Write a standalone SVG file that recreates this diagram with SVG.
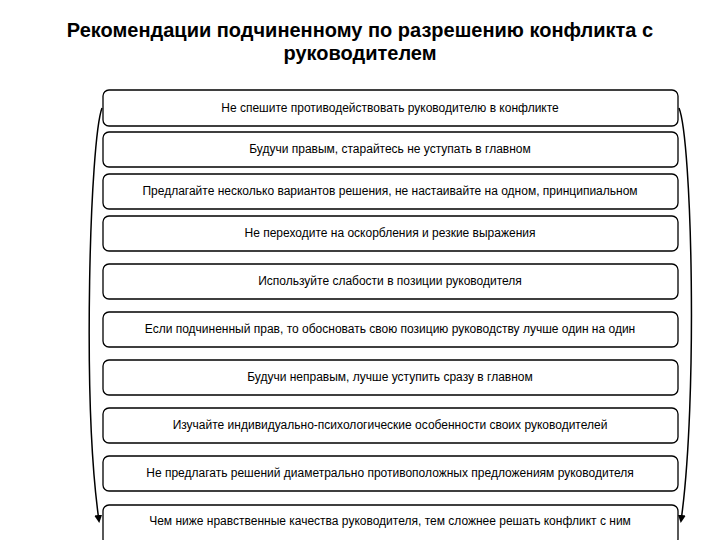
<svg xmlns="http://www.w3.org/2000/svg" width="720" height="540" viewBox="0 0 720 540">
<style>
.b{fill:#fff;stroke:#000;stroke-width:1.3}
.t{font-family:"Liberation Sans",Arial,sans-serif;font-size:12px;text-anchor:middle;fill:#000}
.h{font-family:"Liberation Sans",Arial,sans-serif;font-size:20px;font-weight:bold;text-anchor:middle;fill:#000}
.c{fill:none;stroke:#000;stroke-width:1.5}
</style>
<defs><marker id="a" markerWidth="8" markerHeight="8" refX="6" refY="4" orient="auto" markerUnits="userSpaceOnUse"><path d="M0,0 L8,4 L0,8 z"/></marker></defs>
<text class="h" x="360" y="37">Рекомендации подчиненному по разрешению конфликта с</text>
<text class="h" x="360" y="60">руководителем</text>
<g id="connectors">
<path class="c" d="M102,108 C90,140 82,400 99,521" marker-end="url(#a)"/>
<path class="c" d="M679,108 C692,140 698,400 681,521" marker-end="url(#a)"/>
</g>
<g id="n1"><rect class="b" x="103" y="90" width="575" height="36" rx="6"/><text class="t" x="390" y="112">Не спешите противодействовать руководителю в конфликте</text></g>
<g id="n2"><rect class="b" x="103" y="132" width="575" height="35" rx="6"/><text class="t" x="390" y="153">Будучи правым, старайтесь не уступать в главном</text></g>
<g id="n3"><rect class="b" x="103" y="174" width="575" height="35" rx="6"/><text class="t" x="390" y="195">Предлагайте несколько вариантов решения, не настаивайте на одном, принципиальном</text></g>
<g id="n4"><rect class="b" x="103" y="216" width="575" height="35" rx="6"/><text class="t" x="390" y="237">Не переходите на оскорбления и резкие выражения</text></g>
<g id="n5"><rect class="b" x="103" y="264" width="575" height="35" rx="6"/><text class="t" x="390" y="285">Используйте слабости в позиции руководителя</text></g>
<g id="n6"><rect class="b" x="103" y="312" width="575" height="35" rx="6"/><text class="t" x="390" y="333">Если подчиненный прав, то обосновать свою позицию руководству лучше один на один</text></g>
<g id="n7"><rect class="b" x="103" y="360" width="575" height="35" rx="6"/><text class="t" x="390" y="381">Будучи неправым, лучше уступить сразу в главном</text></g>
<g id="n8"><rect class="b" x="103" y="408" width="575" height="35" rx="6"/><text class="t" x="390" y="429">Изучайте индивидуально-психологические особенности своих руководителей</text></g>
<g id="n9"><rect class="b" x="103" y="456" width="575" height="35" rx="6"/><text class="t" x="390" y="477">Не предлагать решений диаметрально противоположных предложениям руководителя</text></g>
<g id="n10"><rect class="b" x="103" y="505" width="575" height="40" rx="6"/><text class="t" x="390" y="525">Чем ниже нравственные качества руководителя, тем сложнее решать конфликт с ним</text></g>
</svg>
